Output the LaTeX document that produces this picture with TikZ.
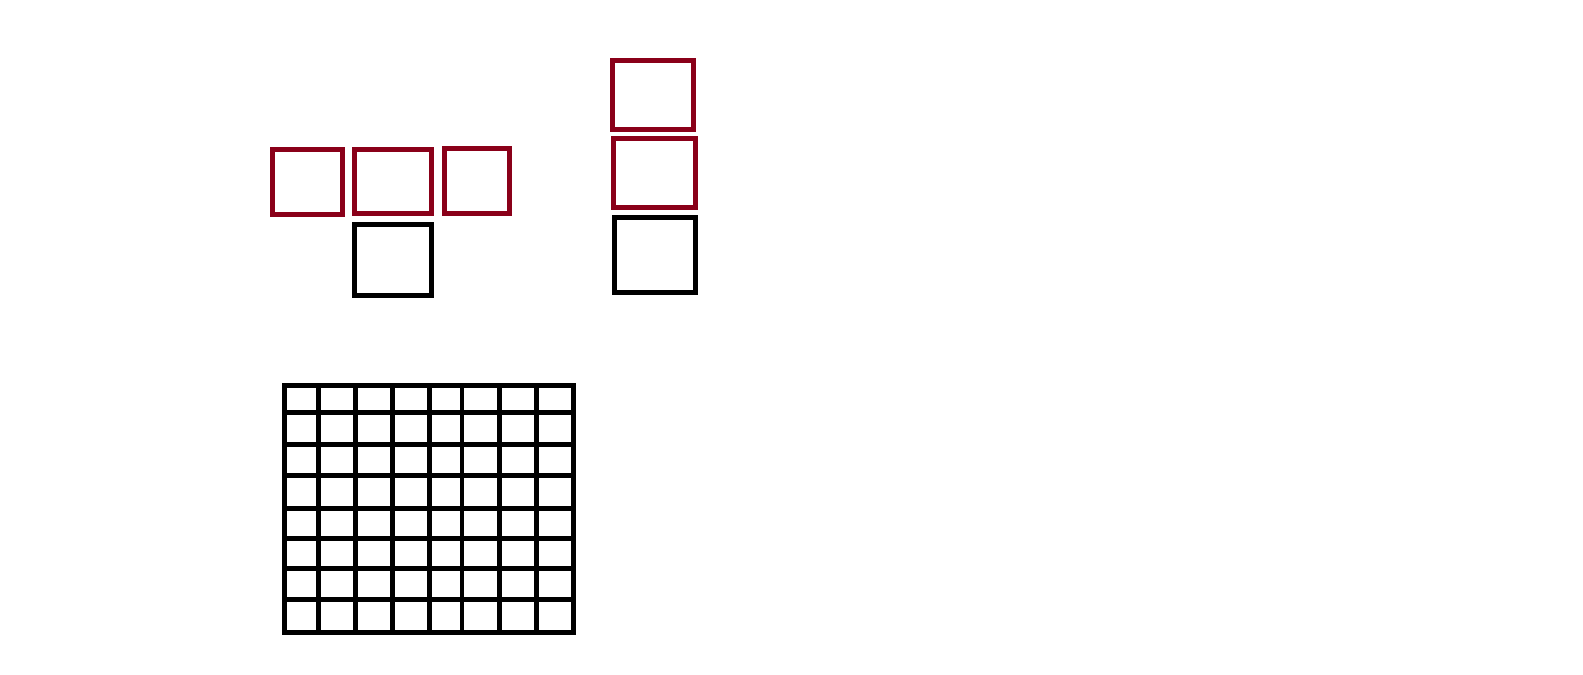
\documentclass[tikz,border=0pt]{standalone}
\definecolor{boxred}{HTML}{8A0019}
\tikzset{redbox/.style={draw=boxred,line width=2.5pt},
blackbox/.style={draw=black,line width=2.5pt},
gridline/.style={draw=black,line width=2.4pt}}
\begin{document}
\begin{tikzpicture}[x=0.5pt,y=-0.5pt]
\useasboundingbox (0,0) rectangle (1583,674);
\draw[redbox] (272.5,149.2) rectangle (342.5,214.2);
\draw[redbox] (354.2,149.2) rectangle (431.5,213.2);
\draw[redbox] (444.2,148.2) rectangle (509.2,213.2);
\draw[blackbox] (354.2,224.5) rectangle (431.5,295.2);
\draw[redbox] (612.5,60.5) rectangle (693.5,129.2);
\draw[redbox] (613.5,138.5) rectangle (695.2,207.2);
\draw[blackbox] (614.8,217.5) rectangle (695.2,292.2);
\foreach \x in {284.4,318.5,355.3,392.7,429.3,462,499.3,536.3,573.7}
  \draw[gridline] (\x,385.6) -- (\x,632.2);
\foreach \y in {385.6,412.2,444.7,475.3,508.7,538.7,568.7,599.8,632.2}
  \draw[gridline] (284.4,\y) -- (573.7,\y);
\draw[gridline] (284.4,385.6) rectangle (573.7,632.2);
\end{tikzpicture}
\end{document}
